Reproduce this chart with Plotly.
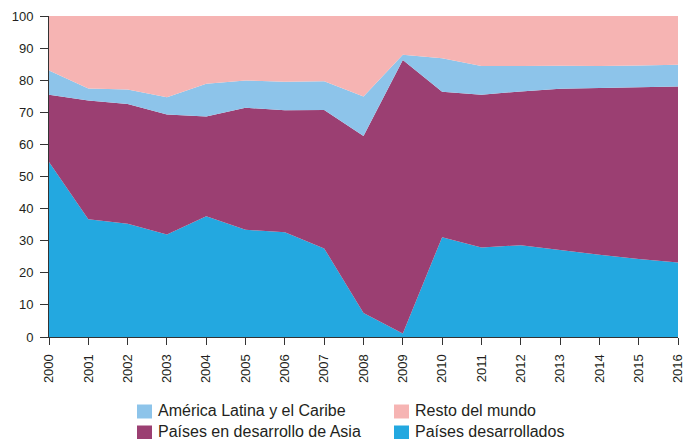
import plotly.graph_objects as go

years = list(range(2000, 2017))
desarrollados = [54.5, 36.7, 35.3, 31.9, 37.6, 33.4, 32.6, 27.6, 7.5, 1.1, 31.1, 27.9, 28.6, 27.1, 25.6, 24.3, 23.2]
asia = [21.0, 37.0, 37.3, 37.4, 31.1, 38.0, 38.0, 43.1, 55.1, 85.2, 45.3, 47.6, 47.9, 50.2, 52.0, 53.5, 54.8]
latam = [7.5, 3.7, 4.5, 5.4, 10.2, 8.5, 8.9, 9.0, 12.3, 1.6, 10.4, 8.9, 7.9, 7.2, 6.8, 6.8, 6.8]
resto = [17.0, 22.6, 22.9, 25.3, 21.1, 20.1, 20.5, 20.3, 25.1, 12.1, 13.2, 15.6, 15.6, 15.5, 15.6, 15.4, 15.2]

names = ["Países desarrollados", "Países en desarrollo de Asia",
         "América Latina y el Caribe", "Resto del mundo"]
values = [desarrollados, asia, latam, resto]
colors = ["#23A8E0", "#9B3F72", "#8DC4EA", "#F6B4B3"]

# legend layout: (series index, column, row)
legend_layout = [(2, 0, 0), (3, 1, 0), (1, 0, 1), (0, 1, 1)]

W, H = 684, 439
# plot area in page pixels: x 49..678, y 16..337
ML, MT = 49, 16
PW, PH = 629, 321
MR = W - ML - PW
MB = H - MT - PH

def px(x):
    return (x - ML) / PW

def py(y):
    return (MT + PH - y) / PH

fig = go.Figure()
for name, vals, col in zip(names, values, colors):
    fig.add_trace(go.Scatter(
        x=years, y=vals, name=name, stackgroup="one", mode="none",
        fillcolor=col, line=dict(width=0), showlegend=False,
    ))

font = "Arial, Liberation Sans, sans-serif"
shapes, annotations = [], []
col_x = [137, 394]
row_y = [411.5, 432.5]
for idx, c, r in legend_layout:
    x0 = col_x[c]
    yc = row_y[r]
    shapes.append(dict(type="rect", xref="paper", yref="paper",
                       x0=px(x0), x1=px(x0 + 15), y0=py(yc - 7), y1=py(yc + 7),
                       fillcolor=colors[idx], line=dict(width=0)))
    annotations.append(dict(text=names[idx], xref="paper", yref="paper",
                            x=px(x0 + 19), y=py(yc - 1), xanchor="left", yanchor="middle",
                            showarrow=False, font=dict(size=16, color="#231F20")))

fig.update_layout(
    width=W, height=H,
    margin=dict(l=ML, r=MR, t=MT, b=MB, autoexpand=False),
    paper_bgcolor="white", plot_bgcolor="white",
    font=dict(family=font, size=13, color="#231F20"),
    showlegend=False,
    shapes=shapes, annotations=annotations,
    xaxis=dict(
        range=[1999.9999, 2016.0001], tickmode="array", tickvals=years,
        ticktext=[str(y) for y in years], tickangle=-90,
        ticks="outside", ticklen=7, tickcolor="#333", showline=True,
        linecolor="#333", linewidth=1, showgrid=False, zeroline=False,
        tickfont=dict(size=13), automargin=False,
        ticklabeloverflow="allow", ticklabelstandoff=4,
    ),
    yaxis=dict(
        range=[0, 100], tickmode="array", tickvals=list(range(0, 101, 10)),
        ticks="outside", ticklen=8, tickcolor="#333", showline=True,
        linecolor="#333", linewidth=1, showgrid=False, zeroline=False,
        tickfont=dict(size=13), automargin=False,
        ticklabelstandoff=4,
    ),
)

fig.write_html(
    "out.html",
    config={"displayModeBar": False, "staticPlot": True},
    post_script="document.body.style.margin='0';document.body.style.overflow='hidden';",
)
